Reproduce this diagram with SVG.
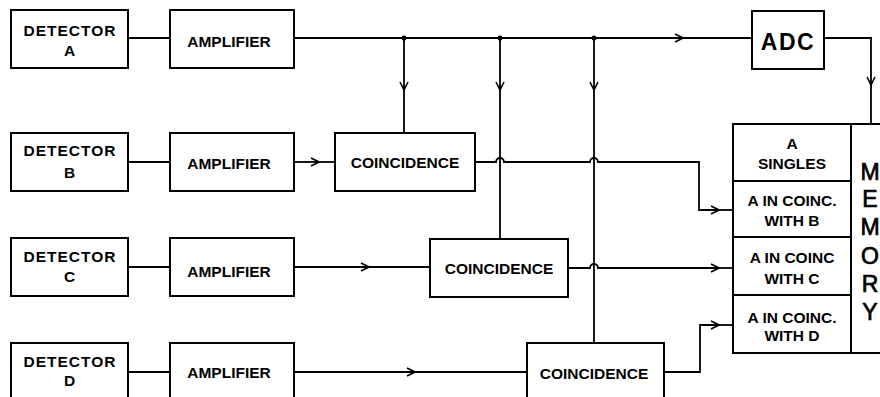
<svg xmlns="http://www.w3.org/2000/svg" width="880" height="397" viewBox="0 0 880 397">
<defs>
<marker id="arr" viewBox="0 0 10 10" refX="9" refY="5" markerWidth="10" markerHeight="10" markerUnits="userSpaceOnUse" orient="auto">
<path d="M1,1 L9,5 L1,9" fill="none" stroke="#000" stroke-width="1.6"/>
</marker>
</defs>
<style>
rect{fill:#fff;stroke:#000;stroke-width:2}
text{font-family:"Liberation Sans",Arial,sans-serif;font-weight:bold;font-size:15.5px;text-anchor:middle;fill:#000}
.det{letter-spacing:1px}
.big{font-size:23px}
.mem{font-size:23px;font-weight:normal;stroke:#000;stroke-width:0.7}
#connectors line,#connectors path{stroke:#000;stroke-width:1.8;fill:none}
.dot{fill:#000}
</style>
<rect x="0" y="0" width="880" height="397" style="fill:#fff;stroke:none"/>

<g id="connectors">
<line x1="128" y1="38" x2="170" y2="38"/>
<line x1="294" y1="38" x2="683" y2="38" marker-end="url(#arr)"/>
<line x1="683" y1="38" x2="752" y2="38"/>
<circle class="dot" cx="404" cy="38" r="2.5"/>
<circle class="dot" cx="500" cy="38" r="2.5"/>
<circle class="dot" cx="594" cy="38" r="2.5"/>
<line x1="404" y1="38" x2="404" y2="90" marker-end="url(#arr)"/>
<line x1="404" y1="90" x2="404" y2="133"/>
<line x1="500" y1="38" x2="500" y2="90" marker-end="url(#arr)"/>
<line x1="500" y1="90" x2="500" y2="239"/>
<line x1="594" y1="38" x2="594" y2="90" marker-end="url(#arr)"/>
<line x1="594" y1="90" x2="594" y2="343"/>
<path d="M824,38 H871 V85" marker-end="url(#arr)"/>
<line x1="871" y1="85" x2="871" y2="124"/>

<line x1="128" y1="162" x2="170" y2="162"/>
<line x1="294" y1="162" x2="319" y2="162" marker-end="url(#arr)"/>
<line x1="319" y1="162" x2="335" y2="162"/>
<path d="M475,162 H496 a4,4 0 0 1 8,0 H590 a4,4 0 0 1 8,0 H699 V210 H719" marker-end="url(#arr)"/>
<line x1="719" y1="210" x2="733" y2="210"/>

<line x1="128" y1="267" x2="170" y2="267"/>
<line x1="294" y1="267" x2="369" y2="267" marker-end="url(#arr)"/>
<line x1="369" y1="267" x2="430" y2="267"/>
<path d="M568,268 H590 a4,4 0 0 1 8,0 H719" marker-end="url(#arr)"/>
<line x1="719" y1="268" x2="733" y2="268"/>

<line x1="128" y1="372" x2="170" y2="372"/>
<line x1="294" y1="372" x2="415" y2="372" marker-end="url(#arr)"/>
<line x1="415" y1="372" x2="527" y2="372"/>
<path d="M664,372 H700 V325 H719" marker-end="url(#arr)"/>
<line x1="719" y1="325" x2="733" y2="325"/>
</g>

<g id="detA"><rect x="11" y="10" width="117" height="58"/><text class="det" x="70" y="36">DETECTOR</text><text x="69.5" y="56">A</text></g>
<g id="ampA"><rect x="170" y="10" width="124" height="58"/><text x="229" y="47">AMPLIFIER</text></g>
<g id="adc"><rect x="752" y="11" width="72" height="58"/><text class="big" x="788" y="50" letter-spacing="1.5">ADC</text></g>

<g id="detB"><rect x="11" y="133" width="117" height="58"/><text class="det" x="70" y="156">DETECTOR</text><text x="69.5" y="178">B</text></g>
<g id="ampB"><rect x="170" y="133" width="124" height="58"/><text x="229" y="169">AMPLIFIER</text></g>
<g id="coincB"><rect x="335" y="133" width="140" height="58"/><text x="405" y="168">COINCIDENCE</text></g>

<g id="detC"><rect x="11" y="238" width="117" height="58"/><text class="det" x="70" y="262">DETECTOR</text><text x="69.5" y="282">C</text></g>
<g id="ampC"><rect x="170" y="238" width="124" height="58"/><text x="229" y="277">AMPLIFIER</text></g>
<g id="coincC"><rect x="430" y="239" width="138" height="58"/><text x="499" y="274">COINCIDENCE</text></g>

<g id="detD"><rect x="11" y="343" width="117" height="60"/><text class="det" x="70" y="367">DETECTOR</text><text x="69.5" y="386">D</text></g>
<g id="ampD"><rect x="170" y="343" width="124" height="60"/><text x="229" y="378">AMPLIFIER</text></g>
<g id="coincD"><rect x="527" y="343" width="137" height="60"/><text x="594" y="379">COINCIDENCE</text></g>

<g id="memory">
<rect x="733" y="124" width="160" height="229"/>
<line x1="851" y1="124" x2="851" y2="353" stroke="#000" stroke-width="2"/>
<line x1="733" y1="181" x2="851" y2="181" stroke="#000" stroke-width="2"/>
<line x1="733" y1="237" x2="851" y2="237" stroke="#000" stroke-width="2"/>
<line x1="733" y1="295" x2="851" y2="295" stroke="#000" stroke-width="2"/>
<text x="792" y="149">A</text><text x="792" y="169">SINGLES</text>
<text x="792" y="206">A IN COINC.</text><text x="792" y="226">WITH B</text>
<text x="792" y="263">A IN COINC</text><text x="792" y="284">WITH C</text>
<text x="792" y="323">A IN COINC.</text><text x="792" y="341">WITH D</text>
<text class="mem" x="870" y="180">M</text>
<text class="mem" x="870" y="207">E</text>
<text class="mem" x="870" y="235">M</text>
<text class="mem" x="870" y="264">O</text>
<text class="mem" x="870" y="292">R</text>
<text class="mem" x="870" y="320">Y</text>
</g>
</svg>
